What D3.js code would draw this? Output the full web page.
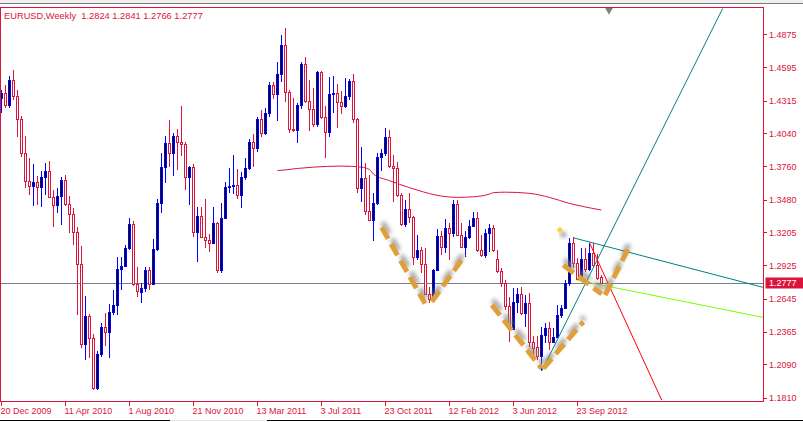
<!DOCTYPE html>
<html>
<head>
<meta charset="utf-8">
<script src="https://cdn.jsdelivr.net/npm/d3@7"></script>
<style>
  html, body { margin: 0; padding: 0; background: #ffffff; }
  svg { display: block; }
  text { font-family: "Liberation Sans", Arial, sans-serif; }
</style>
</head>
<body>
<div id="chart"></div>
<script>
// ---------------- DATA ----------------
const symbolTitle = "EURUSD,Weekly";
const lastQuote = ["1.2824", "1.2841", "1.2766", "1.2777"];
const currentPrice = 1.2777;

// weekly candles, index 0 = week of 20 Dec 2009
const open = [
1.4336,1.4378,1.4277,1.4488,1.4353,1.4159,1.3872,1.3636,1.3594,1.3628,
1.3586,1.3670,1.3720,1.3501,1.3434,1.3510,1.3645,1.3442,1.3358,1.3206,
1.2937,1.2262,1.2498,1.2313,1.1891,1.2178,1.2406,1.2364,1.2532,1.2591,
1.2894,1.2920,1.3071,1.3274,1.2768,1.2700,1.2734,1.2886,1.2768,1.3063,
1.3451,1.3754,1.3957,1.3872,1.4016,1.3965,1.3948,1.3670,1.3754,1.3206,
1.3341,1.3164,1.3139,1.3113,1.3282,1.2886,1.3324,1.3586,1.3594,1.3602,
1.3518,1.3670,1.3746,1.3965,1.3914,1.4159,1.4041,1.4209,1.4446,1.4370,
1.4538,1.4783,1.4387,1.4075,1.4066,1.4277,1.4622,1.4311,1.4243,1.4117,
1.4555,1.4176,1.4049,1.4370,1.4378,1.4302,1.4268,1.4353,1.4479,1.4159,
1.3577,1.3661,1.3383,1.3308,1.3451,1.3839,1.3872,1.4007,1.3763,1.3746,
1.3518,1.3274,1.3400,1.3333,1.2996,1.3055,1.2937,1.2684,1.2650,1.2886,
1.3173,1.3080,1.3240,1.3198,1.3442,1.3181,1.3080,1.3164,1.3257,1.3324,
1.3055,1.3012,1.3198,1.3240,1.2979,1.2877,1.2777,1.2582,1.2389,1.2616,
1.2684,1.2523,1.2608,1.2279,1.2240,1.2161,1.2338,1.2397,1.2279,1.2321,
1.2507,1.2566,1.2777,1.3113,1.2945,1.2810,1.2979,1.2894,1.3029,1.2928,
1.2824];
const high = [
1.4405,1.4446,1.4521,1.4572,1.4405,1.4184,1.4016,1.3830,1.3779,1.3678,
1.3720,1.3788,1.3805,1.3560,1.3577,1.3670,1.3687,1.3510,1.3409,1.3248,
1.3088,1.2667,1.2515,1.2346,1.2203,1.2439,1.2523,1.2599,1.2717,1.2996,
1.2996,1.3097,1.3324,1.3299,1.2911,1.2777,1.2911,1.2911,1.3147,1.3486,
1.3872,1.4016,1.4150,1.4041,1.4075,1.4268,1.3965,1.3763,1.3779,1.3417,
1.3417,1.3486,1.3189,1.3417,1.3291,1.3451,1.3628,1.3746,1.3855,1.3737,
1.3712,1.3830,1.3990,1.4032,1.4176,1.4235,1.4252,1.4471,1.4471,1.4639,
1.4867,1.4926,1.4405,1.4336,1.4294,1.4639,1.4681,1.4488,1.4420,1.4563,
1.4565,1.4268,1.4513,1.4521,1.4454,1.4395,1.4504,1.4496,1.4538,1.4165,
1.3923,1.3788,1.3687,1.3535,1.3872,1.3906,1.4083,1.4066,1.3855,1.3796,
1.3535,1.3476,1.3535,1.3340,1.3181,1.3080,1.3071,1.2743,1.2894,1.3232,
1.3215,1.3316,1.3282,1.3476,1.3476,1.3282,1.3215,1.3308,1.3375,1.3375,
1.3181,1.3232,1.3274,1.3265,1.3055,1.2903,1.2802,1.2658,1.2734,1.2734,
1.2743,1.2675,1.2692,1.2330,1.2330,1.2406,1.2439,1.2448,1.2397,1.2591,
1.2591,1.2802,1.3156,1.3164,1.2987,1.3071,1.3071,1.3113,1.3113,1.3020,
1.2841];
const low = [
1.4209,1.4252,1.4252,1.4319,1.4007,1.3839,1.3577,1.3518,1.3425,1.3434,
1.3417,1.3518,1.3493,1.3248,1.3366,1.3265,1.3425,1.3198,1.3097,1.2507,
1.2226,1.2127,1.2144,1.1874,1.1874,1.2152,1.2245,1.2144,1.2507,1.2507,
1.2717,1.2911,1.3055,1.2751,1.2658,1.2608,1.2700,1.2717,1.2760,1.3046,
1.3366,1.3619,1.3754,1.3678,1.3729,1.3847,1.3560,1.3434,1.3164,1.2953,
1.3156,1.3071,1.3038,1.3105,1.2861,1.2861,1.3316,1.3535,1.3527,1.3486,
1.3409,1.3645,1.3729,1.3754,1.3881,1.4007,1.4024,1.4176,1.4328,1.4142,
1.4471,1.4302,1.4041,1.4049,1.3957,1.4243,1.4294,1.4058,1.4091,1.4091,
1.4159,1.3830,1.4007,1.4209,1.4083,1.4201,1.4252,1.4319,1.4125,1.3535,
1.3459,1.3350,1.3299,1.3130,1.3434,1.3720,1.3847,1.3746,1.3459,1.3501,
1.3257,1.3248,1.3282,1.2928,1.2970,1.2861,1.2675,1.2608,1.2630,1.2880,
1.3012,1.3029,1.2970,1.3164,1.3173,1.3070,1.2996,1.3150,1.3248,1.3038,
1.2996,1.2987,1.3038,1.3038,1.2861,1.2743,1.2549,1.2279,1.2381,1.2523,
1.2507,1.2406,1.2237,1.2152,1.2127,1.2035,1.2271,1.2212,1.2271,1.2315,
1.2481,1.2557,1.2751,1.2903,1.2802,1.2795,1.2869,1.2880,1.2911,1.2802,
1.2766];
const close = [
1.4378,1.4277,1.4488,1.4353,1.4159,1.3872,1.3636,1.3594,1.3628,1.3586,
1.3670,1.3720,1.3501,1.3434,1.3510,1.3645,1.3442,1.3358,1.3206,1.2937,
1.2262,1.2498,1.2313,1.1891,1.2178,1.2406,1.2364,1.2532,1.2591,1.2894,
1.2920,1.3071,1.3274,1.2768,1.2709,1.2734,1.2886,1.2768,1.3063,1.3451,
1.3754,1.3957,1.3872,1.4016,1.3965,1.3948,1.3670,1.3754,1.3206,1.3341,
1.3164,1.3139,1.3113,1.3282,1.2886,1.3324,1.3586,1.3594,1.3602,1.3518,
1.3670,1.3746,1.3965,1.3914,1.4159,1.4041,1.4209,1.4446,1.4370,1.4538,
1.4783,1.4387,1.4075,1.4066,1.4277,1.4622,1.4311,1.4243,1.4117,1.4555,
1.4176,1.4049,1.4370,1.4378,1.4302,1.4268,1.4353,1.4479,1.4159,1.3577,
1.3661,1.3383,1.3308,1.3451,1.3839,1.3872,1.4007,1.3763,1.3746,1.3518,
1.3274,1.3400,1.3333,1.2996,1.3055,1.2937,1.2684,1.2641,1.2886,1.3173,
1.3080,1.3240,1.3198,1.3442,1.3181,1.3080,1.3164,1.3257,1.3324,1.3055,
1.3012,1.3198,1.3240,1.3055,1.2877,1.2777,1.2582,1.2389,1.2616,1.2684,
1.2523,1.2608,1.2279,1.2226,1.2161,1.2338,1.2397,1.2279,1.2321,1.2507,
1.2566,1.2777,1.3113,1.2945,1.2810,1.2979,1.2894,1.3029,1.2928,1.2819,
1.2777];

// moving average (read at sampled bars)
const maIndex = [69,71,74,78,85,90,92,93,97,102,104,107,110,114,118,122,123,126,132,137,142,145,150];
const maValue = [1.3725,1.3731,1.3743,1.3754,1.3763,1.3754,1.3733,1.3695,1.3640,1.3581,1.3560,1.3531,1.3510,1.3499,1.3504,1.3527,1.3539,1.3543,1.3533,1.3499,1.3448,1.3425,1.3392];

// x-axis tick labels and their bar index
const xTickIndex = [0,16,32,48,64,80,96,112,128,144];
const xTickLabels = ["20 Dec 2009","11 Apr 2010","1 Aug 2010","21 Nov 2010","13 Mar 2011","3 Jul 2011","23 Oct 2011","12 Feb 2012","3 Jun 2012","23 Sep 2012"];

// y-axis tick values
const yTicks = [1.4875,1.4595,1.4315,1.4040,1.3760,1.3480,1.3205,1.2925,1.2645,1.2365,1.2090,1.1810];

// trend lines [bar index, price]
const tealRise   = [[135.05,1.2035],[180.3,1.5092]];
const tealFall   = [[143.0,1.3158],[190.45,1.2740]];
const greenFall  = [[143.8,1.2802],[190.45,1.2487]];
const redFall    = [[147.0,1.3116],[165.05,1.1790]];

// hand-drawn dashed pattern marks [bar index, price]
const patternSegments = [
  [[95.05,1.3246],[105.9,1.2605]],
  [[107.55,1.2619],[115.9,1.3012]],
  [[122.6,1.2591],[135.05,1.2057]],
  [[135.45,1.2057],[145.45,1.2450]],
  [[140.45,1.2928],[150.05,1.2684]],
  [[150.9,1.2675],[157.1,1.3097]]
];
const patternDot = [139.6,1.3223];

// ---------------- LAYOUT ----------------
const W = 803, H = 422;
const plot = {left: 0.5, right: 763.5, top: 7.5, bottom: 401.5};
const RED = "#dc143c", BLUE = "#0000ff";

const x = d3.scaleLinear().domain([0, 190.45]).range([1.5, 763.3]);
const y = d3.scaleLinear().domain([1.1810, 1.4875]).range([397.7, 34.2]);

const svg = d3.select("#chart").append("svg")
  .attr("width", W).attr("height", H)
  .attr("viewBox", `0 0 ${W} ${H}`);

svg.append("rect").attr("width", W).attr("height", H).attr("fill", "#ffffff");

// window chrome at top and bottom
svg.append("rect").attr("x",0).attr("y",0).attr("width",W).attr("height",3).attr("fill","#f0f0f0");
svg.append("line").attr("x1",0).attr("x2",W).attr("y1",3.5).attr("y2",3.5).attr("stroke","#7a7a7a").attr("stroke-width",1);
svg.append("line").attr("x1",0).attr("x2",W).attr("y1",420.5).attr("y2",420.5).attr("stroke","#000").attr("stroke-width",1);
svg.append("line").attr("x1",170).attr("x2",267).attr("y1",420.5).attr("y2",420.5).attr("stroke","#e8e8e8").attr("stroke-width",1);

const defs = svg.append("defs");
defs.append("clipPath").attr("id","plotclip").append("rect")
  .attr("x", plot.left).attr("y", plot.top)
  .attr("width", plot.right - plot.left).attr("height", plot.bottom - plot.top);
defs.append("filter").attr("id","blur").attr("x","-50%").attr("y","-50%").attr("width","200%").attr("height","200%")
  .append("feGaussianBlur").attr("stdDeviation", 2);

const g = svg.append("g").attr("clip-path","url(#plotclip)");

// current price line
g.append("line")
  .attr("x1", plot.left).attr("x2", plot.right)
  .attr("y1", Math.round(y(currentPrice)) + 0.5).attr("y2", Math.round(y(currentPrice)) + 0.5)
  .attr("stroke", "#708090").attr("stroke-width", 1)
  .attr("shape-rendering","crispEdges");

// moving average
const maPts = maIndex.map((d,i)=>[d, maValue[i]]);
g.append("path").datum(maPts)
  .attr("d", d3.line().x(d=>x(d[0])).y(d=>y(d[1])).curve(d3.curveMonotoneX))
  .attr("fill","none").attr("stroke", RED).attr("stroke-width",1);

// candles
const bars = d3.range(open.length).map(i => ({i, o:open[i], h:high[i], l:low[i], c:close[i]}));
const cg = g.append("g").attr("shape-rendering","crispEdges");
cg.selectAll("line.wick").data(bars).join("line")
  .attr("class","wick")
  .attr("x1", d=>x(d.i)).attr("x2", d=>x(d.i))
  .attr("y1", d=>y(d.h)).attr("y2", d=>y(d.l))
  .attr("stroke", d=> d.c >= d.o ? BLUE : RED).attr("stroke-width",1);
cg.selectAll("rect.body").data(bars).join("rect")
  .attr("class","body")
  .attr("x", d=>x(d.i)-1).attr("width", 2)
  .attr("y", d=>Math.round(y(Math.max(d.o,d.c)))+0.5)
  .attr("height", d=>Math.max(0, Math.round(y(Math.min(d.o,d.c))) - Math.round(y(Math.max(d.o,d.c)))))
  .attr("fill", d=> d.c >= d.o ? "#000000" : "#ffffff")
  .attr("stroke", d=> d.c >= d.o ? BLUE : RED).attr("stroke-width",1);

// trend lines
const lineGen = d3.line().x(d=>x(d[0])).y(d=>y(d[1]));
[[tealRise,"#008080"],[tealFall,"#008080"],[greenFall,"#7cfc00"],[redFall,"#ff0000"]].forEach(([pts,col])=>{
  g.append("path").datum(pts).attr("d", lineGen)
    .attr("fill","none").attr("stroke", col).attr("stroke-width",1);
});

// dashed pattern marks with soft shadow
const ORANGE = "#dfa03c";
patternSegments.forEach(seg=>{
  g.append("path").datum(seg).attr("d", lineGen)
    .attr("transform","translate(1,-5)")
    .attr("fill","none").attr("stroke","#7d7d7d").attr("stroke-opacity",0.75)
    .attr("stroke-width",5).attr("stroke-dasharray","13,6").attr("filter","url(#blur)");
  g.append("path").datum(seg).attr("d", lineGen)
    .attr("fill","none").attr("stroke",ORANGE)
    .attr("stroke-width",5).attr("stroke-dasharray","13,6");
});
g.append("rect").attr("x", x(patternDot[0])+1).attr("y", y(patternDot[1])+2).attr("width",5).attr("height",5)
  .attr("fill","#8a8a8a").attr("filter","url(#blur)");
g.append("path")
  .attr("d", d3.symbol(d3.symbolDiamond2, 30)())
  .attr("transform", `translate(${x(patternDot[0])},${y(patternDot[1])})`)
  .attr("fill","#ffd050");

// shift marker
svg.append("path")
  .attr("d", d3.symbol(d3.symbolTriangle, 28)())
  .attr("transform", `translate(609,10) rotate(180)`)
  .attr("fill","#808080");

// plot frame
svg.append("rect")
  .attr("x", plot.left).attr("y", plot.top)
  .attr("width", plot.right-plot.left).attr("height", plot.bottom-plot.top)
  .attr("fill","none").attr("stroke", RED).attr("stroke-width",1)
  .attr("shape-rendering","crispEdges");

// y axis (right)
const yAxisG = svg.append("g").attr("shape-rendering","crispEdges");
yAxisG.selectAll("line").data(yTicks).join("line")
  .attr("x1", plot.right).attr("x2", plot.right+3)
  .attr("y1", d=>Math.round(y(d))+0.5).attr("y2", d=>Math.round(y(d))+0.5)
  .attr("stroke", RED);
svg.selectAll("text.ylab").data(yTicks).join("text")
  .attr("class","ylab")
  .attr("x", 769).attr("y", d=>y(d)+3.3)
  .attr("font-size", 9).attr("fill", RED)
  .text(d=>d.toFixed(4));

// current price box
const cpY = y(currentPrice);
svg.append("rect").attr("x",765.5).attr("y",Math.round(cpY)-5.5).attr("width",37.5).attr("height",11)
  .attr("fill", RED);
svg.append("text").attr("x",769).attr("y",cpY+3.3).attr("font-size",9).attr("fill","#ffffff")
  .text(currentPrice.toFixed(4));

// x axis
const xAxisG = svg.append("g").attr("shape-rendering","crispEdges");
xAxisG.selectAll("line").data(xTickIndex).join("line")
  .attr("x1", d=>x(d)).attr("x2", d=>x(d))
  .attr("y1", plot.bottom).attr("y2", plot.bottom+4)
  .attr("stroke", RED);
svg.selectAll("text.xlab").data(xTickIndex).join("text")
  .attr("class","xlab")
  .attr("x", d=>x(d)-1).attr("y", 413.5)
  .attr("font-size", 9).attr("fill", RED)
  .text((d,i)=>xTickLabels[i]);

// title
svg.append("text").attr("x",4).attr("y",19.3)
  .attr("font-size",9.3).attr("fill",RED)
  .attr("xml:space","preserve").style("white-space","pre")
  .text(symbolTitle + "  " + lastQuote.join(" "));
</script>
</body>
</html>
